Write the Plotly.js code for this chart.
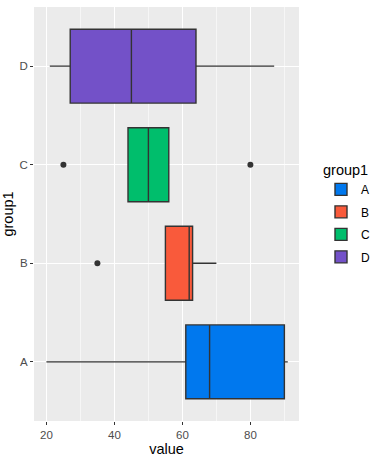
<!DOCTYPE html>
<html>
<head>
<meta charset="utf-8">
<script src="https://cdn.plot.ly/plotly-3.0.1.min.js"></script>
<style>html,body{margin:0;padding:0;background:#fff;}#chart{width:374px;height:460px;}</style>
</head>
<body>
<div id="chart"></div>
<script>
// Data (value per group1)
const groups   = ["A", "B", "C", "D"];
const lowerF   = [20, 55, 44, 21];
const q1s      = [61, 55, 44, 27];
const medians  = [68, 62, 50, 45];
const q3s      = [90, 63, 56, 64];
const upperF   = [91, 70, 56, 87];
const outlierGroup  = ["B", "C", "C"];
const outlierValues = [35, 25, 80];
const fills    = ["#0078EE", "#F95A3B", "#00BE6C", "#7351C8"];

const traces = groups.map((g, i) => ({
  type: "box",
  orientation: "h",
  name: g,
  legendgroup: g,
  y: [g],
  q1: [q1s[i]],
  median: [medians[i]],
  q3: [q3s[i]],
  lowerfence: [lowerF[i]],
  upperfence: [upperF[i]],
  width: 0.75,
  whiskerwidth: 0,
  fillcolor: fills[i],
  line: {color: "#333333", width: 1.4},
  hoverinfo: "skip"
}));

traces.push({
  type: "scatter",
  mode: "markers",
  x: outlierValues,
  y: outlierGroup,
  marker: {color: "#333333", size: 6},
  showlegend: false,
  hoverinfo: "skip"
});

const layout = {
  width: 374, height: 460,
  margin: {l: 34, r: 75, t: 7, b: 39},
  paper_bgcolor: "#ffffff",
  plot_bgcolor: "#EBEBEB",
  font: {family: "Liberation Sans, Arial, sans-serif", color: "#000"},
  boxmode: "overlay",
  showlegend: true,
  xaxis: {
    range: [16.35, 94.3],
    automargin: false,
    tickvals: [20, 40, 60, 80],
    ticktext: ["20", "40", "60", "80"],
    showgrid: true, gridcolor: "#ffffff", gridwidth: 1.1,
    minor: {tickvals: [30, 50, 70, 90], showgrid: true, gridcolor: "#ffffff", gridwidth: 0.55},
    zeroline: false, showline: false,
    ticks: "outside", ticklen: 3, tickwidth: 1, tickcolor: "#333333",
    tickfont: {size: 11.5, color: "#4D4D4D"},
    title: {text: "value", font: {size: 14.5, color: "#000"}, standoff: 3}
  },
  yaxis: {
    type: "category",
    automargin: false,
    categoryorder: "array", categoryarray: groups,
    range: [-0.6, 3.6],
    showgrid: true, gridcolor: "#ffffff", gridwidth: 1.1,
    zeroline: false, showline: false,
    ticks: "outside", ticklen: 3, tickwidth: 1, tickcolor: "#333333",
    tickfont: {size: 11.5, color: "#4D4D4D"},
    title: {text: "group1", font: {size: 14.5, color: "#000"}, standoff: 5}
  },
  legend: {
    xref: "container", yref: "container",
    x: 321 / 374, xanchor: "left",
    y: 1 - 156 / 460, yanchor: "top",
    bgcolor: "rgba(0,0,0,0)",
    title: {text: "group1", font: {size: 14.5, color: "#000"}},
    font: {size: 12, color: "#000"},
    itemwidth: 30,
    tracegroupgap: 3.5
  }
};

Plotly.newPlot("chart", traces, layout, {displayModeBar: false, staticPlot: true});
</script>
</body>
</html>
